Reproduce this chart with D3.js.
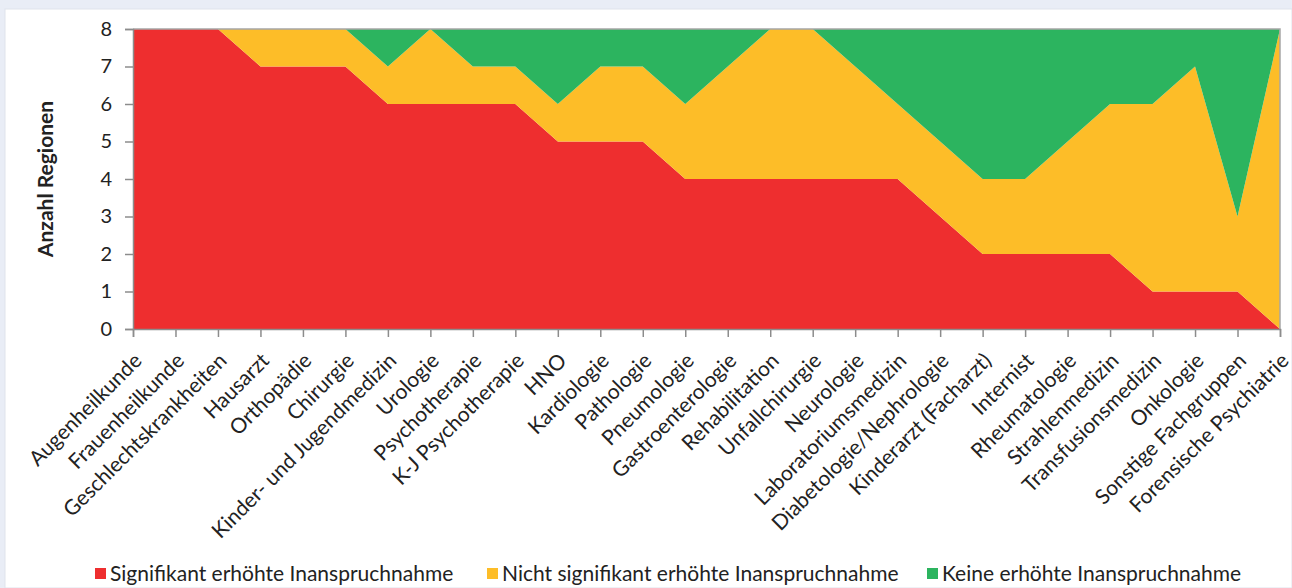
<!DOCTYPE html>
<html>
<head>
<meta charset="utf-8">
<script src="https://cdn.jsdelivr.net/npm/d3@7"></script>
<style>
  html, body { margin: 0; padding: 0; background: #e9edf6; }
  svg { display: block; }
</style>
</head>
<body>
<div id="chart"></div>
<script>
// Fachgruppen, sorted as in the original chart
const categories = [
  'Augenheilkunde', 'Frauenheilkunde', 'Geschlechtskrankheiten', 'Hausarzt',
  'Orthopädie', 'Chirurgie', 'Kinder- und Jugendmedizin', 'Urologie',
  'Psychotherapie', 'K-J Psychotherapie', 'HNO', 'Kardiologie', 'Pathologie',
  'Pneumologie', 'Gastroenterologie', 'Rehabilitation', 'Unfallchirurgie',
  'Neurologie', 'Laboratoriumsmedizin', 'Diabetologie/Nephrologie',
  'Kinderarzt (Facharzt)', 'Internist', 'Rheumatologie', 'Strahlenmedizin',
  'Transfusionsmedizin', 'Onkologie', 'Sonstige Fachgruppen', 'Forensische Psychiatrie'
];

// number of regions per category
const signifikant      = [8, 8, 8, 7, 7, 7, 6, 6, 6, 6, 5, 5, 5, 4, 4, 4, 4, 4, 4, 3, 2, 2, 2, 2, 1, 1, 1, 0];
const nichtSignifikant = [0, 0, 0, 1, 1, 1, 1, 2, 1, 1, 1, 2, 2, 2, 3, 4, 4, 3, 2, 2, 2, 2, 3, 4, 5, 6, 2, 8];
const keine            = [0, 0, 0, 0, 0, 0, 1, 0, 1, 1, 2, 1, 1, 2, 1, 0, 0, 1, 2, 3, 4, 4, 3, 2, 2, 1, 5, 0];

const seriesNames = ['Signifikant erhöhte Inanspruchnahme', 'Nicht signifikant erhöhte Inanspruchnahme', 'Keine erhöhte Inanspruchnahme'];
const seriesKeys = ['sig', 'nicht', 'keine'];
const colors = ['#ee2e2f', '#fdbd28', '#2cb45f'];
const yTicks = [0, 1, 2, 3, 4, 5, 6, 7, 8];

const W = 1292, H = 588;
const plot = { left: 133, right: 1280, top: 29, bottom: 329 };
const font = 'Lato, "Open Sans", sans-serif';

const data = categories.map((c, i) => ({
  cat: c, sig: signifikant[i], nicht: nichtSignifikant[i], keine: keine[i]
}));

const svg = d3.select('#chart').append('svg')
  .attr('width', W).attr('height', H);

// white panel
svg.append('rect')
  .attr('x', 5).attr('y', 9).attr('width', W - 5).attr('height', H - 9)
  .attr('fill', '#ffffff').attr('stroke', '#dfe3ec');

const x = d3.scalePoint().domain(categories).range([plot.left, plot.right]);
const y = d3.scaleLinear().domain([0, 8]).range([plot.bottom, plot.top]);

const stack = d3.stack().keys(seriesKeys);
const stacked = stack(data);

const area = d3.area()
  .x(d => x(d.data.cat))
  .y0(d => y(d[0]))
  .y1(d => y(d[1]));

svg.append('g').selectAll('path')
  .data(stacked)
  .join('path')
  .attr('d', area)
  .attr('fill', (d, i) => colors[i]);

// plot area border (top and right)
svg.append('path')
  .attr('d', `M${plot.left},${plot.top}H${plot.right}V${plot.bottom}`)
  .attr('fill', 'none').attr('stroke', '#a6a6a6').attr('stroke-width', 1.5);

// y axis
const yAxis = svg.append('g')
  .attr('transform', `translate(${plot.left},0)`)
  .call(d3.axisLeft(y).tickValues(yTicks).tickSize(8).tickPadding(13).tickFormat(d3.format('d')));
yAxis.select('.domain').attr('stroke', '#8c8c8c').attr('stroke-width', 1.5);
yAxis.selectAll('.tick line').attr('stroke', '#8c8c8c').attr('stroke-width', 1.5);
yAxis.selectAll('.tick text')
  .attr('font-family', font).attr('font-size', 20).attr('fill', '#222');

// x axis
const xAxis = svg.append('g')
  .attr('transform', `translate(0,${plot.bottom})`)
  .call(d3.axisBottom(x).tickSize(8).tickFormat(''));
xAxis.select('.domain').attr('stroke', '#8c8c8c').attr('stroke-width', 1.5);
xAxis.selectAll('.tick line').attr('stroke', '#8c8c8c').attr('stroke-width', 1.5);

svg.append('g').selectAll('text')
  .data(categories)
  .join('text')
  .attr('transform', d => `translate(${x(d) + 10},${plot.bottom + 33}) rotate(-45)`)
  .attr('text-anchor', 'end')
  .attr('font-family', font).attr('font-size', 21).attr('fill', '#222')
  .text(d => d);

// y axis title
svg.append('text')
  .attr('transform', `translate(53,${(plot.top + plot.bottom) / 2}) rotate(-90)`)
  .attr('text-anchor', 'middle')
  .attr('font-family', font).attr('font-size', 21).attr('font-weight', 'bold').attr('fill', '#222')
  .text('Anzahl Regionen');

// legend
const legendX = [95, 487, 927];
const lg = svg.append('g').selectAll('g')
  .data(seriesNames)
  .join('g')
  .attr('transform', (d, i) => `translate(${legendX[i]},568)`);
lg.append('rect')
  .attr('x', 0).attr('y', 0).attr('width', 11).attr('height', 11)
  .attr('fill', (d, i) => colors[i]);
lg.append('text')
  .attr('x', 15).attr('y', 13)
  .attr('font-family', font).attr('font-size', 21).attr('fill', '#222')
  .text(d => d);
</script>
</body>
</html>
